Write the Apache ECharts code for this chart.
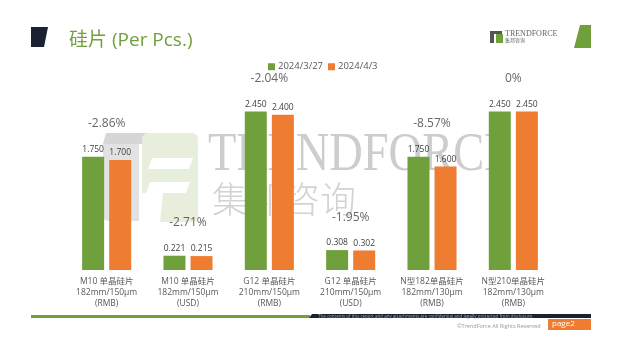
<!DOCTYPE html>
<html>
<head>
<meta charset="utf-8">
<script src="https://cdn.jsdelivr.net/npm/echarts@6/dist/echarts.min.js"></script>
<style>html,body{margin:0;padding:0;background:#fff;}#c{width:637px;height:348px;}</style>
</head>
<body>
<div id="c"></div>
<script>
var categories = [
  'M10 单晶硅片\n182mm/150μm\n(RMB)',
  'M10 单晶硅片\n182mm/150μm\n(USD)',
  'G12 单晶硅片\n210mm/150μm\n(RMB)',
  'G12 单晶硅片\n210mm/150μm\n(USD)',
  'N型182单晶硅片\n182mm/130μm\n(RMB)',
  'N型210单晶硅片\n182mm/130μm\n(RMB)'
];
var seriesNames = ['2024/3/27', '2024/4/3'];
var prices0327 = [1.750, 0.221, 2.450, 0.308, 1.750, 2.450];
var prices0403 = [1.700, 0.215, 2.400, 0.302, 1.600, 2.450];
var changeLabels = ['-2.86%', '-2.71%', '-2.04%', '-1.95%', '-8.57%', '0%'];

var GREEN = '#70a03c', ORANGE = '#ee7d31', DARK = '#1b2130';
var FONT = '"Open Sans","Noto Sans CJK SC",sans-serif';

var chart = echarts.init(document.getElementById('c'), null, {renderer: 'canvas'});
var pctAnchor = prices0327.map(function (v, i) { return Math.max(v, prices0403[i]); });

chart.setOption({
  animation: false,
  backgroundColor: '#fff',
  title: {
    text: '硅片 (Per Pcs.)', left: 64, top: 26,
    textStyle: {fontFamily: FONT, fontSize: 19, fontWeight: 'normal', color: GREEN}
  },
  legend: {
    data: seriesNames, left: 263, top: 57, itemWidth: 7, itemHeight: 7, itemGap: 5, icon: 'rect',
    textStyle: {fontFamily: FONT, fontSize: 9.5, color: '#595959', padding: [0, 0, 0, -2]}
  },
  grid: {left: 66, right: 83, top: 76, bottom: 78},
  xAxis: {
    type: 'category', data: categories,
    axisLine: {show: false}, axisTick: {show: false},
    axisLabel: {fontFamily: FONT, fontSize: 8.5, lineHeight: 11, color: '#595959', margin: 6, interval: 0}
  },
  yAxis: {type: 'value', min: 0, max: 3, show: false, splitLine: {show: false}},
  series: [
    {
      name: seriesNames[0], type: 'bar', data: prices0327, barWidth: 22, barGap: '23%',
      itemStyle: {color: GREEN}, z: 3,
      label: {show: true, position: 'top', distance: 3, fontFamily: FONT, fontSize: 8.5, color: '#404040',
        formatter: function (p) { return p.value.toFixed(3); }}
    },
    {
      name: seriesNames[1], type: 'bar', data: prices0403, barWidth: 22,
      itemStyle: {color: ORANGE}, z: 3,
      label: {show: true, position: 'top', distance: 3, fontFamily: FONT, fontSize: 8.5, color: '#404040',
        formatter: function (p) { return p.value.toFixed(3); }}
    },
    {
      name: 'change', type: 'scatter', data: pctAnchor, symbolSize: 0, silent: true, z: 4,
      label: {show: true, position: 'top', distance: 27, fontFamily: FONT, fontSize: 12, color: '#404040',
        formatter: function (p) { return changeLabels[p.dataIndex]; }}
    }
  ],
  graphic: [
    // watermark logo
    {type: 'polygon', z: 0, silent: true, shape: {points: [[106,133],[160,133],[155,144],[103,144]]}, style: {fill: '#d6d6d6'}},
    {type: 'rect', z: 0, silent: true, shape: {x: 103, y: 144, width: 36, height: 77, r: [0,0,0,6]}, style: {fill: '#e2e2e2'}},
    {type: 'rect', z: 0, silent: true, shape: {x: 142, y: 133, width: 56, height: 89, r: 6}, style: {fill: '#e7eedb'}},
    {type: 'polygon', z: 0, silent: true, shape: {points: [[152,158],[193,158],[189,169],[148,169]]}, style: {fill: '#ffffff'}},
    {type: 'polygon', z: 0, silent: true, shape: {points: [[150,182],[190,182],[186,193],[146,193]]}, style: {fill: '#ffffff'}},
    {type: 'polygon', z: 0, silent: true, shape: {points: [[142,193],[163,193],[160,222],[142,222]]}, style: {fill: '#ffffff'}},
    {type: 'text', z: 0, silent: true, x: 208, y: 129, scaleX: 0.86,
      style: {text: 'TRENDFORCE', fontFamily: '"Liberation Serif",serif', fontSize: 54, fill: '#cdcdcd', textVerticalAlign: 'top'}},
    {type: 'text', z: 0, silent: true, x: 212, y: 181,
      style: {text: '集邦咨询', fontFamily: '"Noto Sans CJK SC",sans-serif', fontSize: 36, fontWeight: 300, fill: '#d3d3d3', textVerticalAlign: 'top'}},
    // header decorations
    {type: 'polygon', silent: true, shape: {points: [[31,27],[48,27],[44,47],[31,47]]}, style: {fill: DARK}},
    {type: 'polygon', silent: true, shape: {points: [[580,25],[591,25],[591,48],[574,48]]}, style: {fill: GREEN}},
    {type: 'rect', silent: true, shape: {x: 490, y: 31, width: 12, height: 3}, style: {fill: '#555'}},
    {type: 'rect', silent: true, shape: {x: 490, y: 34, width: 4, height: 9}, style: {fill: '#555'}},
    {type: 'rect', silent: true, shape: {x: 496, y: 34, width: 7, height: 9}, style: {fill: GREEN}},
    {type: 'text', silent: true, x: 505, y: 30,
      style: {text: 'TRENDFORCE', fontFamily: '"Liberation Serif",serif', fontSize: 8, fill: '#666', textVerticalAlign: 'top'}},
    {type: 'text', silent: true, x: 505, y: 38,
      style: {text: '集邦咨询', fontFamily: '"Noto Sans CJK SC",sans-serif', fontSize: 5, fill: '#666', textVerticalAlign: 'top'}},
    // footer
    {type: 'rect', silent: true, shape: {x: 31, y: 315, width: 279, height: 3}, style: {fill: GREEN}},
    {type: 'polygon', silent: true, shape: {points: [[312,314],[591,314],[591,318],[309,318]]}, style: {fill: DARK}},
    {type: 'text', silent: true, x: 318, y: 314,
      style: {text: 'The contents of this report and any attachments are confidential and legally protected from disclosure.', fontFamily: FONT, fontSize: 4.5, fill: '#9aa0b0', textVerticalAlign: 'top'}},
    {type: 'text', silent: true, x: 457, y: 324,
      style: {text: '©TrendForce All Rights Reserved', fontFamily: FONT, fontSize: 5.5, fill: '#999', textVerticalAlign: 'top'}},
    {type: 'rect', silent: true, shape: {x: 548, y: 319, width: 43, height: 11}, style: {fill: ORANGE}},
    {type: 'text', silent: true, x: 552, y: 319.5,
      style: {text: 'page2', fontFamily: FONT, fontSize: 8, fill: '#fff', textVerticalAlign: 'top'}}
  ]
});
</script>
</body>
</html>
